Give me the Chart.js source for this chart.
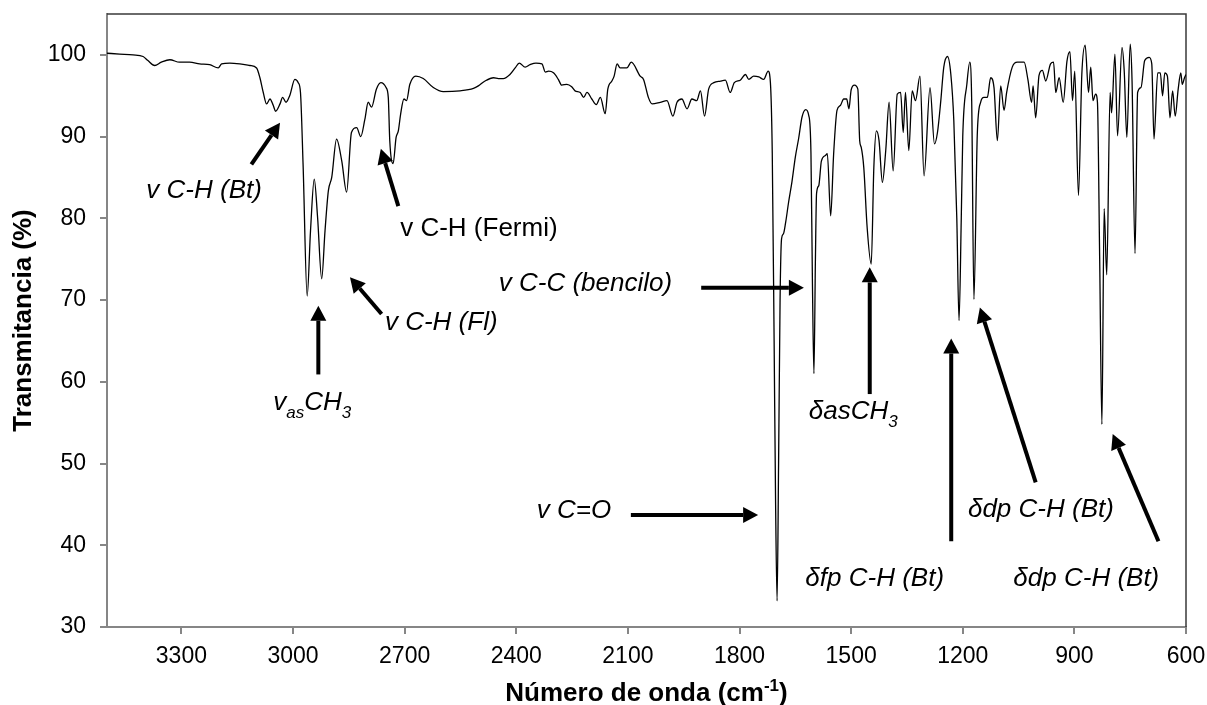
<!DOCTYPE html>
<html>
<head>
<meta charset="utf-8">
<script src="https://cdn.jsdelivr.net/npm/chart.js@4.4.1/dist/chart.umd.min.js"></script>
<style>
  html, body { margin: 0; padding: 0; background: #fff; }
</style>
</head>
<body>
<canvas id="irChart" width="1207" height="705"></canvas>
<script>
// IR spectrum (wavenumber in cm-1, transmittance in %)
const wavenumbers = [
  3500, 3466, 3430, 3403, 3390, 3372, 3354, 3331, 3305, 3278, 3251, 3224, 3201, 3192, 3170, 3143, 3116, 3098,
  3089, 3080, 3071, 3062, 3053, 3047, 3035, 3028, 3019, 3009, 2995, 2986, 2980, 2973, 2962, 2953, 2943, 2934,
  2923, 2914, 2905, 2896, 2883, 2869, 2856, 2843, 2829, 2818, 2807, 2798, 2789, 2776, 2764, 2750, 2744, 2740,
  2731, 2723, 2717, 2711, 2702, 2695, 2686, 2670, 2650, 2623, 2596, 2551, 2515, 2502, 2484, 2461, 2448, 2435,
  2417, 2403, 2392, 2376, 2363, 2347, 2331, 2322, 2313, 2300, 2287, 2278, 2264, 2251, 2242, 2228, 2219, 2210,
  2197, 2185, 2174, 2161, 2154, 2143, 2137, 2129, 2121, 2103, 2091, 2067, 2058, 2045, 2035, 2013, 1995, 1979,
  1968, 1955, 1941, 1928, 1915, 1905, 1894, 1883, 1869, 1851, 1838, 1825, 1814, 1798, 1784, 1775, 1762, 1748,
  1735, 1723, 1717, 1712, 1707, 1703, 1699, 1695, 1691, 1687, 1682, 1676, 1668, 1659, 1650, 1641, 1632, 1622,
  1614, 1608, 1604, 1600, 1596, 1593, 1587, 1580, 1569, 1564, 1555, 1547, 1538, 1529, 1520, 1512, 1506, 1500,
  1491, 1482, 1477, 1473, 1466, 1457, 1446, 1439, 1432, 1425, 1416, 1407, 1398, 1387, 1376, 1367, 1360, 1354,
  1345, 1336, 1327, 1315, 1304, 1288, 1276, 1268, 1259, 1251, 1241, 1232, 1224, 1216, 1210, 1204, 1200, 1189,
  1181, 1176, 1170, 1161, 1152, 1143, 1134, 1125, 1116, 1107, 1098, 1089, 1082, 1067, 1053, 1035, 1025, 1015,
  1011, 1004, 995, 986, 977, 964, 956, 950, 941, 930, 920, 912, 905, 899, 889, 880, 871, 862,
  856, 850, 843, 838, 832, 826, 820, 813, 804, 800, 791, 784, 772, 766, 759, 750, 745, 737,
  730, 721, 711, 699, 692, 686, 676, 669, 663, 657, 650, 643, 636, 629, 621, 614, 610, 604, 600
];
const transmittance = [
  100.2, 100.1, 100.0, 99.8, 99.3, 98.7, 99.1, 99.4, 99.1, 99.1, 98.9, 98.8, 98.4, 98.9, 99.0, 98.9, 98.7, 98.4,
  97.2, 95.4, 94.0, 94.6, 93.8, 93.1, 94.0, 94.8, 94.2, 95.0, 97.0, 96.6, 95.4, 86.6, 70.5, 78.5, 84.8, 80.1,
  72.6, 78.5, 83.4, 85.0, 89.7, 87.0, 83.2, 90.5, 91.1, 90.0, 92.1, 94.2, 93.6, 95.8, 96.6, 96.0, 94.8, 89.5,
  86.7, 89.9, 90.7, 92.7, 94.6, 94.4, 96.4, 97.4, 97.1, 96.0, 95.5, 95.6, 95.9, 96.2, 96.8, 97.2, 97.1, 97.1,
  97.6, 98.4, 99.0, 98.5, 98.8, 99.0, 98.9, 97.9, 98.0, 97.8, 97.0, 96.3, 96.4, 96.1, 95.6, 95.4, 94.8, 95.4,
  94.6, 93.9, 94.8, 92.8, 95.8, 96.8, 97.4, 98.9, 98.4, 98.4, 99.1, 97.4, 97.0, 94.8, 94.0, 94.2, 94.4, 92.5,
  94.2, 94.6, 93.4, 94.6, 94.4, 95.6, 92.5, 95.8, 96.6, 96.8, 96.9, 95.4, 96.6, 96.9, 97.6, 97.0, 97.4, 97.3,
  97.0, 98.0, 96.6, 88.0, 65.0, 45.0, 33.2, 50.0, 70.0, 77.5, 78.1, 79.5, 82.0, 84.5, 87.5, 89.8, 92.4, 93.3,
  92.6, 88.0, 72.0, 61.0, 75.0, 83.0, 84.0, 87.0, 87.7, 87.9, 80.3, 87.9, 93.2, 93.8, 94.6, 94.6, 93.4, 95.7,
  96.3, 95.8, 89.5, 88.7, 86.2, 78.9, 74.4, 86.2, 90.7, 89.5, 84.4, 88.3, 94.2, 85.8, 95.2, 95.4, 90.5, 95.4,
  88.3, 95.6, 94.4, 97.4, 85.2, 96.0, 89.1, 90.5, 94.4, 98.5, 99.8, 97.6, 91.9, 80.0, 67.5, 80.0, 90.0, 96.4,
  99.1, 94.4, 70.1, 90.2, 94.2, 94.8, 94.8, 97.2, 96.0, 89.5, 96.2, 93.2, 95.4, 98.5, 99.1, 99.1, 97.0, 94.2,
  96.2, 92.3, 97.5, 98.1, 96.8, 98.9, 99.1, 95.4, 97.2, 94.2, 99.2, 100.4, 94.4, 98.0, 82.8, 97.6, 101.2, 95.4,
  98.5, 94.4, 95.2, 94.2, 75.0, 54.8, 81.2, 73.1, 95.4, 92.9, 100.1, 90.1, 100.9, 98.0, 89.9, 101.3, 96.8, 75.7,
  95.4, 96.0, 99.3, 99.7, 98.9, 89.7, 97.8, 97.8, 95.0, 97.8, 97.4, 92.3, 95.6, 92.5, 95.8, 97.8, 96.4, 97.2, 97.6
];

const xTicks = [3300, 3000, 2700, 2400, 2100, 1800, 1500, 1200, 900, 600];
const yTicks = [30, 40, 50, 60, 70, 80, 90, 100];

// band labels: text runs, anchor (wavenumber, %T), alignment
const notes = [
  { runs: [['v C-H (Bt)']], wn: 3239, t: 83.6, align: 'center', italic: true },
  { runs: [['v C-H (Fermi)']], wn: 2712, t: 78.9, align: 'left', italic: false },
  { runs: [['v C-H (Fl)']], wn: 2753, t: 67.5, align: 'left', italic: true },
  { runs: [['v'], ['as', 'sub'], ['CH'], ['3', 'sub']], wn: 3053, t: 57.6, align: 'left', italic: true },
  { runs: [['v C-C (bencilo)']], wn: 1981, t: 72.2, align: 'right', italic: true },
  { runs: [['v C=O']], wn: 2145, t: 44.4, align: 'right', italic: true },
  { runs: [['δasCH'], ['3', 'sub']], wn: 1614, t: 56.5, align: 'left', italic: true },
  { runs: [['δfp C-H (Bt)']], wn: 1623, t: 36.1, align: 'left', italic: true },
  { runs: [['δdp C-H (Bt)']], wn: 1186, t: 44.6, align: 'left', italic: true },
  { runs: [['δdp C-H (Bt)']], wn: 1064, t: 36.1, align: 'left', italic: true }
];
// arrows: from (wn, %T) to (wn, %T)
const arrows = [
  [3112, 86.6, 3035, 91.7],
  [2717, 81.5, 2764, 88.5],
  [2762, 68.3, 2847, 72.8],
  [2932, 60.9, 2932, 69.3],
  [1903, 71.5, 1627, 71.5],
  [2092, 43.7, 1750, 43.7],
  [1450, 58.5, 1450, 74.0],
  [1231, 40.5, 1231, 65.3],
  [1004, 47.7, 1154, 69.1],
  [674, 40.5, 797, 53.6]
];

const FONT = "'Liberation Sans', Arial, sans-serif";

function drawRuns(ctx, runs, x, y, size, style, align) {
  const big = style + ' ' + size + 'px ' + FONT;
  const small = style + ' ' + Math.round(size * 0.65) + 'px ' + FONT;
  let w = 0;
  runs.forEach(r => { ctx.font = r[1] ? small : big; w += ctx.measureText(r[0]).width; });
  let cx = align === 'left' ? x : align === 'right' ? x - w : x - w / 2;
  ctx.textAlign = 'left';
  ctx.textBaseline = 'alphabetic';
  runs.forEach(r => {
    ctx.font = r[1] ? small : big;
    let dy = 0;
    if (r[1] === 'sub') dy = size * 0.28;
    if (r[1] === 'sup') dy = -size * 0.38;
    ctx.fillText(r[0], cx, y + dy);
    cx += ctx.measureText(r[0]).width;
  });
}

const decorations = {
  id: 'decorations',
  beforeDatasetsDraw(chart) {
    const { ctx, chartArea: a } = chart;
    ctx.save();
    ctx.strokeStyle = '#3a3a3a';
    ctx.lineWidth = 1.5;
    ctx.beginPath();
    ctx.moveTo(a.left, a.top);
    ctx.lineTo(a.right, a.top);
    ctx.lineTo(a.right, a.bottom);
    ctx.stroke();
    ctx.restore();
  },
  afterDatasetsDraw(chart) {
    const { ctx, chartArea: a, scales: { x, y } } = chart;
    ctx.save();
    ctx.fillStyle = '#000';
    notes.forEach(n => {
      drawRuns(ctx, n.runs, x.getPixelForValue(n.wn), y.getPixelForValue(n.t) + 9,
        26, n.italic ? 'italic' : 'normal', n.align);
    });

    ctx.strokeStyle = '#000';
    ctx.lineWidth = 4;
    arrows.forEach(ar => {
      const x1 = x.getPixelForValue(ar[0]), y1 = y.getPixelForValue(ar[1]);
      const x2 = x.getPixelForValue(ar[2]), y2 = y.getPixelForValue(ar[3]);
      const ang = Math.atan2(y2 - y1, x2 - x1);
      const hl = 15, hw = 8;
      const bx = x2 - hl * Math.cos(ang), by = y2 - hl * Math.sin(ang);
      ctx.beginPath();
      ctx.moveTo(x1, y1);
      ctx.lineTo(bx, by);
      ctx.stroke();
      ctx.beginPath();
      ctx.moveTo(x2, y2);
      ctx.lineTo(bx + hw * Math.sin(ang), by - hw * Math.cos(ang));
      ctx.lineTo(bx - hw * Math.sin(ang), by + hw * Math.cos(ang));
      ctx.closePath();
      ctx.fill();
    });

    // axis titles
    drawRuns(ctx, [['Número de onda (cm'], ['-1', 'sup'], [')']], (a.left + a.right) / 2, 701, 26, 'bold', 'center');
    ctx.translate(24, (a.top + a.bottom) / 2);
    ctx.rotate(-Math.PI / 2);
    ctx.font = 'bold 26px ' + FONT;
    ctx.textAlign = 'center';
    ctx.textBaseline = 'middle';
    ctx.fillText('Transmitancia (%)', 0, 0);
    ctx.restore();
  }
};

const axisGrid = { drawOnChartArea: false, drawTicks: true, tickLength: 7, color: '#868686', lineWidth: 2 };
const axisBorder = { display: true, color: '#868686', width: 2 };

new Chart(document.getElementById('irChart'), {
  type: 'line',
  data: {
    datasets: [{
      label: 'IR',
      data: wavenumbers.map((w, i) => ({ x: w, y: transmittance[i] })),
      borderColor: '#000',
      borderWidth: 1.3,
      pointRadius: 0,
      cubicInterpolationMode: 'monotone',
      fill: false
    }]
  },
  options: {
    responsive: false,
    animation: false,
    devicePixelRatio: 1,
    layout: { padding: { top: 14, right: 21, left: 0, bottom: 0 } },
    plugins: { legend: { display: false }, tooltip: { enabled: false } },
    scales: {
      x: {
        type: 'linear',
        reverse: true,
        min: 600,
        max: 3500,
        afterBuildTicks: s => { s.ticks = xTicks.map(v => ({ value: v })); },
        afterFit: s => { s.height = 78; s.paddingLeft = 0; s.paddingRight = 0; },
        ticks: {
          color: '#000', font: { family: FONT, size: 23 }, padding: 9,
          maxRotation: 0, autoSkip: false, callback: v => String(v)
        },
        grid: axisGrid,
        border: axisBorder
      },
      y: {
        min: 30,
        max: 105,
        afterBuildTicks: s => { s.ticks = yTicks.map(v => ({ value: v })); },
        afterFit: s => { s.width = 107; s.paddingTop = 0; s.paddingBottom = 0; },
        ticks: { color: '#000', font: { family: FONT, size: 23 }, padding: 14, callback: v => String(v) },
        grid: axisGrid,
        border: axisBorder
      }
    }
  },
  plugins: [decorations]
});
</script>
</body>
</html>
